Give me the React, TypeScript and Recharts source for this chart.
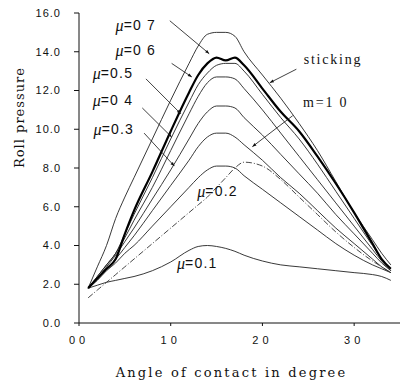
import { LineChart, Line, XAxis, YAxis, ReferenceLine, ReferenceDot } from "recharts";

// angle of contact (degree) shared by all curves
const angle = [1, 2, 3, 4, 5, 6, 8, 10, 12, 13, 14, 15, 16, 17, 18, 20, 22, 24, 26, 28, 30, 32, 33, 34];

const sticking = [1.8, 2.9, 4.0, 5.4, 6.5, 7.5, 9.5, 11.5, 13.4, 14.3, 14.9, 15.0, 15.0, 14.8, 14.0, 12.8, 11.6, 10.3, 8.9, 7.3, 5.7, 4.3, 3.6, 3.0];
const mu07 = [1.8, 2.3, 2.8, 3.3, 4.6, 5.8, 7.8, 9.9, 11.9, 12.8, 13.4, 13.7, 13.55, 13.7, 13.3, 12.1, 10.9, 9.9, 8.6, 7.2, 5.7, 4.1, 3.3, 2.8];
const mu06 = [1.8, 2.4, 3.0, 3.6, 4.6, 5.6, 7.5, 9.5, 11.4, 12.3, 12.9, 13.3, 13.4, 13.4, 13.0, 11.8, 10.6, 9.5, 8.2, 6.8, 5.4, 4.0, 3.3, 2.8];
const mu05 = [1.8, 2.4, 3.0, 3.6, 4.4, 5.3, 7.0, 8.9, 10.8, 11.7, 12.4, 12.7, 12.7, 12.6, 12.1, 11.0, 9.8, 8.6, 7.4, 6.2, 5.0, 3.8, 3.2, 2.7];
const mu04 = [1.8, 2.3, 2.9, 3.5, 4.2, 4.9, 6.4, 7.9, 9.5, 10.3, 10.9, 11.2, 11.2, 11.1, 10.6, 9.7, 8.7, 7.7, 6.7, 5.6, 4.6, 3.6, 3.1, 2.7];
const mu03 = [1.8, 2.3, 2.8, 3.3, 3.9, 4.5, 5.8, 7.1, 8.4, 9.1, 9.6, 9.8, 9.8, 9.6, 9.2, 8.4, 7.5, 6.7, 5.8, 4.9, 4.1, 3.3, 2.9, 2.6];
const m10 = [1.3, 1.7, 2.1, 2.5, 2.9, 3.3, 4.1, 4.9, 5.7, 6.1, 6.5, 7.0, 7.5, 8.0, 8.3, 8.1, 7.4, 6.5, 5.6, 4.7, 3.9, 3.2, 2.9, 2.6];
const mu02 = [1.8, 2.2, 2.7, 3.1, 3.6, 4.0, 5.0, 6.0, 7.0, 7.5, 7.9, 8.1, 8.1, 8.0, 7.6, 6.9, 6.2, 5.5, 4.8, 4.1, 3.5, 3.0, 2.8, 2.6];
const mu01 = [1.8, 1.95, 2.1, 2.2, 2.3, 2.4, 2.7, 3.15, 3.75, 3.95, 4.0, 3.95, 3.85, 3.7, 3.5, 3.2, 3.0, 2.9, 2.8, 2.7, 2.6, 2.5, 2.4, 2.2];

const xTicks = [0, 10, 20, 30];
const xTickLabels = ["00", "10", "20", "30"];
const yTicks = [0, 2, 4, 6, 8, 10, 12, 14, 16];

// annotation text: label, label position, leader start, leader tip
const notes = [
  { text: "0 7", mu: true, at: [6.2, 15.4], from: [9.9, 15.6], to: [14.2, 13.9] },
  { text: "0 6", mu: true, at: [6.2, 14.1], from: [10.1, 13.4], to: [12.3, 12.7] },
  { text: "0.5", mu: true, at: [3.7, 12.9], from: [7.3, 12.6], to: [11.1, 10.8] },
  { text: "0 4", mu: true, at: [3.7, 11.5], from: [6.9, 11.1], to: [10.1, 9.6] },
  { text: "0.3", mu: true, at: [3.8, 10.0], from: [7.1, 9.8], to: [10.4, 8.1] },
  { text: "0.2", mu: true, at: [15.1, 6.8], from: null, to: null },
  { text: "0.1", mu: true, at: [12.9, 3.1], from: null, to: null },
  { text: "sticking", mu: false, at: [27.7, 13.6], from: [23.7, 13.1], to: [20.8, 12.4] },
  { text: "m=1 0", mu: false, at: [26.9, 11.4], from: [23.3, 10.7], to: [18.9, 9.1] },
];

const data = angle.map((a, i) => ({
  angle: a,
  sticking: sticking[i],
  mu07: mu07[i],
  mu06: mu06[i],
  mu05: mu05[i],
  mu04: mu04[i],
  mu03: mu03[i],
  m10: m10[i],
  mu02: mu02[i],
  mu01: mu01[i],
}));

const thin = ["sticking", "mu06", "mu05", "mu04", "mu03", "mu02", "mu01"];

function NoteLabel({ viewBox, text, mu }: any) {
  const cx = viewBox.x + (viewBox.width || 0) / 2;
  const cy = viewBox.y + (viewBox.height || 0) / 2;
  if (!mu) {
    return (
      <text x={cx} y={cy} textAnchor="middle" dominantBaseline="central" fontFamily="Liberation Serif" fontSize={14} letterSpacing={1.8} fill="#111">
        {text}
      </text>
    );
  }
  return (
    <text x={cx} y={cy} textAnchor="middle" dominantBaseline="central" fontSize={14} fill="#111">
      <tspan fontFamily="Liberation Serif" fontStyle="italic" fontSize={16}>μ</tspan>
      <tspan fontFamily="Liberation Sans" letterSpacing={1.2}>={text}</tspan>
    </text>
  );
}

function XTitle({ viewBox }: any) {
  const cx = viewBox.x + viewBox.width / 2 - 8;
  return (
    <text x={cx} y={viewBox.y + viewBox.height - 13} textAnchor="middle" dominantBaseline="central" fill="#111" fontSize={13} fontFamily="DejaVu Serif" letterSpacing={2.2}>
      Angle of contact in degree
    </text>
  );
}

export default function App() {
  return (
    <div style={{ position: "absolute", left: 0, top: 0, background: "#fff" }}>
      <LineChart width={404} height={385} data={data} margin={{ top: 13, right: 4, bottom: 0, left: 0 }}>
        <defs>
          <marker id="tip" viewBox="0 0 10 10" refX="10" refY="5" markerWidth="7" markerHeight="5" orient="auto">
            <path d="M0,1 L10,5 L0,9 z" fill="#111" />
          </marker>
        </defs>
        <XAxis
          dataKey="angle"
          type="number"
          domain={[0, 35]}
          ticks={xTicks}
          height={62}
          tickFormatter={(v: number) => xTickLabels[xTicks.indexOf(v)]}
          tick={{ fill: "#111", fontSize: 11, fontFamily: "Liberation Sans", letterSpacing: 4 }}
          tickSize={3}
          tickMargin={10}
          axisLine={{ stroke: "#111", strokeWidth: 1 }}
          tickLine={{ stroke: "#111" }}
          label={<XTitle />}
        />
        <YAxis
          type="number"
          domain={[0, 16]}
          ticks={yTicks}
          tickFormatter={(v: number) => v.toFixed(1)}
          tick={{ fill: "#111", fontSize: 11, fontFamily: "Liberation Sans", letterSpacing: 1 }}
          width={79}
          tickSize={5}
          tickMargin={13}
          axisLine={{ stroke: "#111", strokeWidth: 1 }}
          tickLine={{ stroke: "#111" }}
          label={{ value: "Roll pressure", angle: -90, position: "insideLeft", offset: 19, fill: "#111", fontSize: 13, fontFamily: "DejaVu Serif", letterSpacing: 1 }}
        />
        {thin.map((k) => (
          <Line key={k} dataKey={k} type="monotone" stroke="#222" strokeWidth={0.9} dot={false} isAnimationActive={false} />
        ))}
        <Line dataKey="m10" type="monotone" stroke="#333" strokeWidth={0.9} strokeDasharray="6 2 1 2" dot={false} isAnimationActive={false} />
        <Line dataKey="mu07" type="monotone" stroke="#000" strokeWidth={2.2} dot={false} isAnimationActive={false} />
        {notes.map((n, i) =>
          n.from ? (
            <ReferenceLine
              key={"l" + i}
              segment={[{ x: n.from[0], y: n.from[1] }, { x: n.to![0], y: n.to![1] }]}
              stroke="#111"
              strokeWidth={0.8}
              markerEnd="url(#tip)"
              ifOverflow="visible"
            />
          ) : null
        )}
        {notes.map((n, i) => (
          <ReferenceDot
            key={"t" + i}
            x={n.at[0]}
            y={n.at[1]}
            r={0}
            ifOverflow="visible"
            label={<NoteLabel text={n.text} mu={n.mu} />}
          />
        ))}
      </LineChart>
    </div>
  );
}
